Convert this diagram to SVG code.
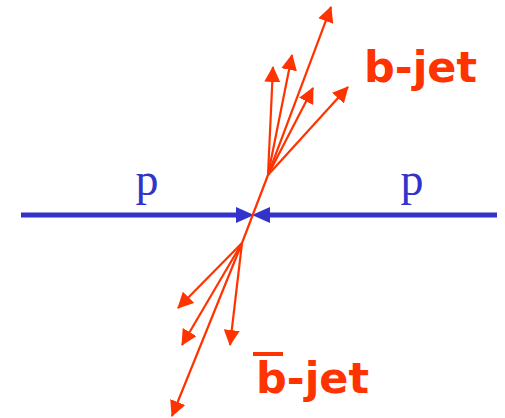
<svg xmlns="http://www.w3.org/2000/svg" width="505" height="418" viewBox="0 0 505 418">
<defs>
<marker id="ra" viewBox="0 0 16 16" refX="15" refY="8" markerWidth="16" markerHeight="16" markerUnits="userSpaceOnUse" orient="auto">
<path d="M0,0 L16,8 L0,16 Z" fill="#ff3300"/>
</marker>
<style>
.beam{stroke:#3333cc;stroke-width:5;fill:none}
.trk{stroke:#ff3300;stroke-width:2.2;fill:none}
.arr{marker-end:url(#ra)}
.p{font-family:"Liberation Serif",serif;font-size:46px;fill:#3333cc;text-anchor:middle}
.jet{font-family:"DejaVu Sans",sans-serif;font-weight:bold;font-size:43px;fill:#ff3300}
</style>
</defs>
<g id="connectors">
<line class="beam" x1="21" y1="215" x2="240" y2="215"/>
<line class="beam" x1="497" y1="215" x2="266" y2="215"/>
<path d="M236,207 L254,215 L236,223 Z" fill="#3333cc"/>
<path d="M270,207 L252,215 L270,223 Z" fill="#3333cc"/>
<line class="trk" x1="242" y1="243" x2="268" y2="175"/>
<line class="trk arr" x1="268" y1="175" x2="331" y2="7"/>
<line class="trk arr" x1="268" y1="175" x2="273" y2="67"/>
<line class="trk arr" x1="268" y1="175" x2="292" y2="55"/>
<line class="trk arr" x1="268" y1="175" x2="313" y2="88"/>
<line class="trk arr" x1="268" y1="175" x2="348" y2="87"/>
<line class="trk arr" x1="242" y1="243" x2="178" y2="308"/>
<line class="trk arr" x1="242" y1="243" x2="182" y2="345"/>
<line class="trk arr" x1="242" y1="243" x2="230" y2="345"/>
<line class="trk arr" x1="242" y1="243" x2="172" y2="416"/>
</g>
<g id="p-left"><text class="p" x="147" y="195">p</text></g>
<g id="p-right"><text class="p" x="412" y="195">p</text></g>
<g id="b-jet"><text class="jet" x="364" y="82">b-jet</text></g>
<g id="bbar-jet">
<text class="jet" x="256" y="393">b-jet</text>
<rect x="253" y="352" width="30" height="4" fill="#ff3300"/>
</g>
</svg>
